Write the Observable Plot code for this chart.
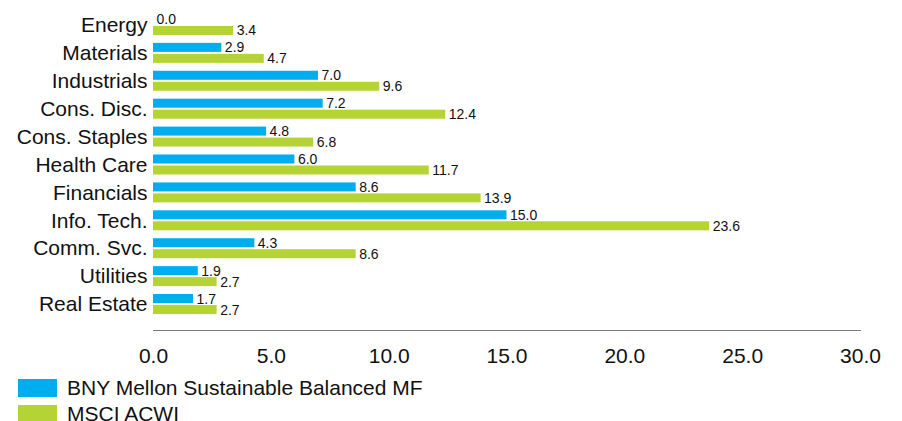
<!DOCTYPE html>
<html>
<head>
<meta charset="utf-8">
<script src="https://cdn.jsdelivr.net/npm/d3@7"></script>
<script src="https://cdn.jsdelivr.net/npm/@observablehq/plot@0.6"></script>
<style>
  html, body { margin: 0; padding: 0; background: #fff; }
  body { font-family: "Liberation Sans", Arial, sans-serif; color: #111; }
  #chart { width: 902px; }
  .legend { position: relative; height: 46px; }
  .legend-item { display: flex; align-items: center; height: 26px; font-size: 21px; }
  .swatch { width: 39px; height: 18px; margin-left: 18px; margin-right: 10px; }
</style>
</head>
<body>
<div id="chart"></div>
<script>
// Sector weights (%) for the fund and its benchmark
const sectors = ["Energy", "Materials", "Industrials", "Cons. Disc.", "Cons. Staples", "Health Care",
  "Financials", "Info. Tech.", "Comm. Svc.", "Utilities", "Real Estate"];
const fundWeights = [0.0, 2.9, 7.0, 7.2, 4.8, 6.0, 8.6, 15.0, 4.3, 1.9, 1.7];
const benchmarkWeights = [3.4, 4.7, 9.6, 12.4, 6.8, 11.7, 13.9, 23.6, 8.6, 2.7, 2.7];
const xTicks = [0, 5, 10, 15, 20, 25, 30];
const seriesNames = ["BNY Mellon Sustainable Balanced MF", "MSCI ACWI"];
const seriesColors = ["#00aeef", "#b5d334"];

const fundRows = sectors.map((sector, i) => ({sector, value: fundWeights[i]}));
const benchRows = sectors.map((sector, i) => ({sector, value: benchmarkWeights[i]}));

const fmt = d => d.toFixed(1);

const plot = Plot.plot({
  width: 902,
  height: 375,
  marginTop: 11,
  marginBottom: 45,
  marginLeft: 153,
  marginRight: 42,
  style: {fontFamily: "'Liberation Sans', Arial, sans-serif", fontSize: "21px", color: "#111", background: "#fff"},
  x: {domain: [0, 30], label: null},
  y: {domain: sectors, range: [11, 318], padding: 0, round: false, label: null},
  marks: [
    Plot.frame({anchor: "bottom", stroke: "#7a7a7a"}),
    Plot.axisX({ticks: xTicks, tickFormat: fmt, tickSize: 0, tickPadding: 18, fontSize: 21, label: null}),
    Plot.axisY({tickSize: 0, tickPadding: 6, fontSize: 21, label: null}),
    // two bars per sector: fund on top, benchmark below
    Plot.barX(fundRows, {x: "value", y: "sector", fill: seriesColors[0], insetTop: 3.95, insetBottom: 14.95}),
    Plot.barX(benchRows, {x: "value", y: "sector", fill: seriesColors[1], insetTop: 14.95, insetBottom: 3.95}),
    Plot.text(fundRows, {x: "value", y: "sector", text: d => fmt(d.value), dy: -5.5, dx: 3, textAnchor: "start", fontSize: 14, fill: "#111"}),
    Plot.text(benchRows, {x: "value", y: "sector", text: d => fmt(d.value), dy: 5.5, dx: 3, textAnchor: "start", fontSize: 14, fill: "#111"})
  ]
});

const chart = document.getElementById("chart");
chart.appendChild(plot);

// Legend below the plot
const legend = document.createElement("div");
legend.className = "legend";
seriesNames.forEach((name, i) => {
  const item = document.createElement("div");
  item.className = "legend-item";
  const sw = document.createElement("span");
  sw.className = "swatch";
  sw.style.background = seriesColors[i];
  const label = document.createElement("span");
  label.textContent = name;
  item.appendChild(sw);
  item.appendChild(label);
  legend.appendChild(item);
});
chart.appendChild(legend);
</script>
</body>
</html>
